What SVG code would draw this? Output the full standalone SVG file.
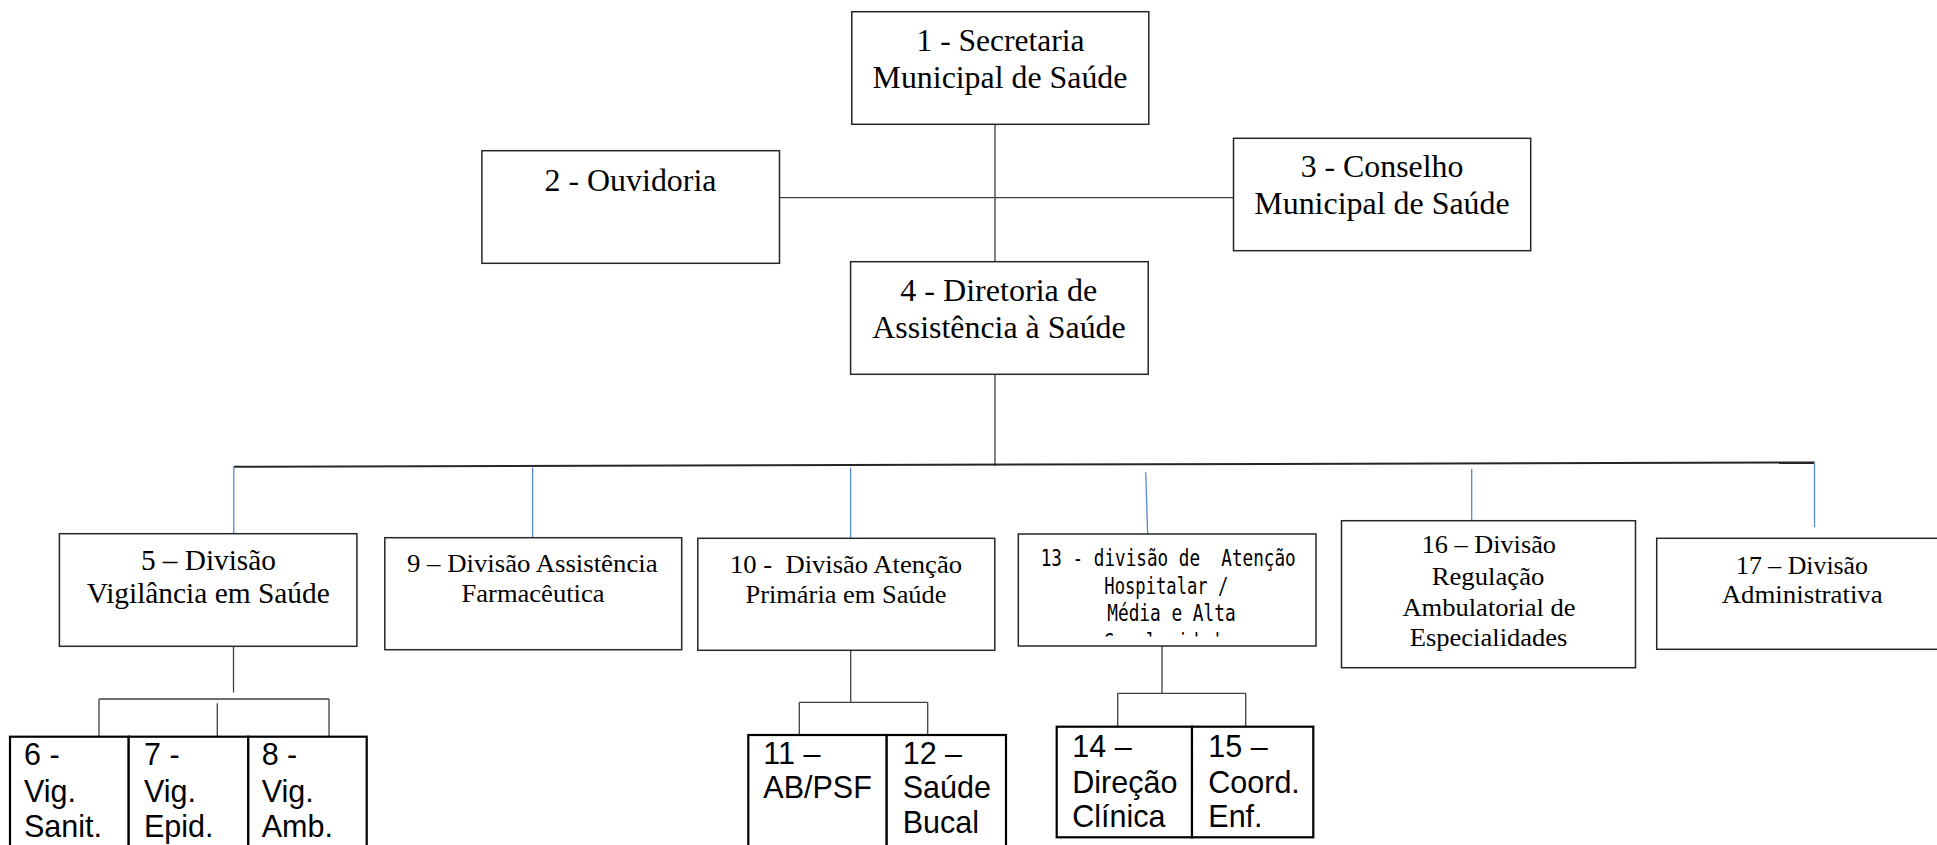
<svg xmlns="http://www.w3.org/2000/svg" width="1937" height="845" viewBox="0 0 1937 845">
<style>
.box{fill:#fff;stroke:#262626;stroke-width:1.5}
.bbox{fill:#fff;stroke:#000;stroke-width:2.2}
.t{font-family:"Liberation Serif","Times New Roman",serif;fill:#000;text-anchor:middle}
.t29{font-size:31px}
.t27{font-size:28.5px}
.t24{font-size:25.5px}
.a{font-family:"Liberation Sans",Arial,sans-serif;font-size:30.5px;fill:#000}
.m{font-family:"DejaVu Sans Mono","Liberation Mono",monospace;font-size:23.5px;fill:#000;white-space:pre}
.ln{stroke:#404040;stroke-width:1.3;fill:none}
.bus{stroke:#262626;stroke-width:2;fill:none}
.bl{stroke:#5a87d6;stroke-width:1.3;fill:none}
</style>
<defs>
<clipPath id="clip13"><rect x="1019" y="540" width="296" height="96.5"/></clipPath>
</defs>
<rect width="1937" height="845" fill="#fff"/>

<g id="connectors">
<line class="ln" x1="995" y1="124.3" x2="995" y2="261.7"/>
<line class="ln" x1="779.5" y1="197.7" x2="1233.5" y2="197.7"/>
<line class="ln" x1="995" y1="374.3" x2="995" y2="466"/>
<line class="bus" x1="233.8" y1="466.7" x2="1814.5" y2="462.4"/>
<line class="bl" x1="233.8" y1="466.7" x2="233.8" y2="533.7"/>
<line class="bl" x1="532.6" y1="467.5" x2="532.6" y2="537.7"/>
<line class="bl" x1="850.6" y1="467.5" x2="850.6" y2="538.3"/>
<line class="bl" x1="1145.7" y1="472.3" x2="1147.7" y2="535.7"/>
<line class="bl" x1="1471.7" y1="469" x2="1471.7" y2="533.3"/>
<line class="bl" x1="1814.5" y1="462.4" x2="1814.5" y2="527.3"/>
<line class="ln" x1="233.5" y1="646.3" x2="233.5" y2="692.5"/>
<line class="ln" x1="99" y1="699" x2="329" y2="699"/>
<line class="ln" x1="99" y1="699" x2="99" y2="736.7"/>
<line class="ln" x1="217.3" y1="703.3" x2="217.3" y2="736.7"/>
<line class="ln" x1="329" y1="699" x2="329" y2="736.7"/>
<line class="ln" x1="850.7" y1="650.3" x2="850.7" y2="702.3"/>
<line class="ln" x1="799.3" y1="702.3" x2="927.7" y2="702.3"/>
<line class="ln" x1="799.3" y1="702.3" x2="799.3" y2="735"/>
<line class="ln" x1="927.7" y1="702.3" x2="927.7" y2="735"/>
<line class="ln" x1="1162" y1="646" x2="1162" y2="693.3"/>
<line class="ln" x1="1117.7" y1="693.3" x2="1245.7" y2="693.3"/>
<line class="ln" x1="1117.7" y1="693.3" x2="1117.7" y2="726.7"/>
<line class="ln" x1="1245.7" y1="693.3" x2="1245.7" y2="726.7"/>
</g>

<g id="n1">
<rect class="box" x="851.8" y="11.7" width="297" height="112.6"/>
<text class="t t29" x="1000.5" y="50.7" textLength="167.8" lengthAdjust="spacingAndGlyphs">1 - Secretaria</text>
<text class="t t29" x="1000" y="88.3" textLength="254.8" lengthAdjust="spacingAndGlyphs">Municipal de Saúde</text>
</g>
<g id="n2">
<rect class="box" x="481.9" y="150.7" width="297.6" height="112.6"/>
<text class="t t29" x="630.5" y="190.7" textLength="172" lengthAdjust="spacingAndGlyphs">2 - Ouvidoria</text>
</g>
<g id="n3">
<rect class="box" x="1233.5" y="138.3" width="297.2" height="112.4"/>
<text class="t t29" x="1382" y="177.3" textLength="162.6" lengthAdjust="spacingAndGlyphs">3 - Conselho</text>
<text class="t t29" x="1382" y="213.5" textLength="255.4" lengthAdjust="spacingAndGlyphs">Municipal de Saúde</text>
</g>
<g id="n4">
<rect class="box" x="850.6" y="261.7" width="297.6" height="112.6"/>
<text class="t t29" x="998.7" y="300.7" textLength="197" lengthAdjust="spacingAndGlyphs">4 - Diretoria de</text>
<text class="t t29" x="999" y="338.3" textLength="253.5" lengthAdjust="spacingAndGlyphs">Assistência à Saúde</text>
</g>
<g id="n5">
<rect class="box" x="59.4" y="533.7" width="297.5" height="112.6"/>
<text class="t t27" x="208.4" y="570" textLength="135" lengthAdjust="spacingAndGlyphs">5 – Divisão</text>
<text class="t t27" x="208.2" y="603.3" textLength="243" lengthAdjust="spacingAndGlyphs">Vigilância em Saúde</text>
</g>
<g id="n9">
<rect class="box" x="384.8" y="537.7" width="296.9" height="112"/>
<text class="t t24" x="532.3" y="571.7" textLength="250.6" lengthAdjust="spacingAndGlyphs">9 – Divisão Assistência</text>
<text class="t t24" x="533" y="602.3" textLength="142.9" lengthAdjust="spacingAndGlyphs">Farmacêutica</text>
</g>
<g id="n10">
<rect class="box" x="697.8" y="538.3" width="297" height="112"/>
<text class="t t24" x="846" y="572.7" textLength="232" lengthAdjust="spacingAndGlyphs" style="white-space:pre">10 -  Divisão Atenção</text>
<text class="t t24" x="846" y="603.3" textLength="201" lengthAdjust="spacingAndGlyphs">Primária em Saúde</text>
</g>
<g id="n13">
<rect class="box" x="1018.3" y="534" width="297.7" height="112"/>
<text class="m" x="1040.7" y="565.7" textLength="255" lengthAdjust="spacingAndGlyphs">13 - divisão de  Atenção</text>
<text class="m" x="1104.3" y="594" textLength="124" lengthAdjust="spacingAndGlyphs">Hospitalar /</text>
<text class="m" x="1107.3" y="620.7" textLength="128.3" lengthAdjust="spacingAndGlyphs">Média e Alta</text>
<text class="m" x="1103.5" y="650" textLength="127" lengthAdjust="spacingAndGlyphs" clip-path="url(#clip13)">Complexidade</text>
</g>
<g id="n16">
<rect class="box" x="1341.5" y="520.7" width="294" height="147"/>
<text class="t t24" x="1488.8" y="553.3" textLength="134.3" lengthAdjust="spacingAndGlyphs">16 – Divisão</text>
<text class="t t24" x="1488" y="585" textLength="112.7" lengthAdjust="spacingAndGlyphs">Regulação</text>
<text class="t t24" x="1489" y="616" textLength="173.2" lengthAdjust="spacingAndGlyphs">Ambulatorial de</text>
<text class="t t24" x="1488.6" y="646" textLength="157.7" lengthAdjust="spacingAndGlyphs">Especialidades</text>
</g>
<g id="n17">
<rect class="box" x="1656.7" y="538.3" width="295" height="111"/>
<text class="t t24" x="1802" y="574" textLength="132" lengthAdjust="spacingAndGlyphs">17 – Divisão</text>
<text class="t t24" x="1802.2" y="603.3" textLength="161" lengthAdjust="spacingAndGlyphs">Administrativa</text>
</g>

<g id="n6">
<rect class="bbox" x="10" y="736.7" width="118.7" height="120"/>
<text class="a" x="24" y="765">6 -</text>
<text class="a" x="24" y="801.7">Vig.</text>
<text class="a" x="24" y="836.7">Sanit.</text>
</g>
<g id="n7">
<rect class="bbox" x="128.7" y="736.7" width="119.6" height="120"/>
<text class="a" x="144" y="765">7 -</text>
<text class="a" x="144" y="801.7">Vig.</text>
<text class="a" x="144" y="836.7">Epid.</text>
</g>
<g id="n8">
<rect class="bbox" x="248.3" y="736.7" width="118.4" height="120"/>
<text class="a" x="261.7" y="765">8 -</text>
<text class="a" x="261.7" y="801.7">Vig.</text>
<text class="a" x="261.7" y="836.7">Amb.</text>
</g>
<g id="n11">
<rect class="bbox" x="748.3" y="735" width="138.4" height="120"/>
<text class="a" x="763.3" y="764">11 –</text>
<text class="a" x="763.3" y="798.3">AB/PSF</text>
</g>
<g id="n12">
<rect class="bbox" x="886.7" y="735" width="119.3" height="120"/>
<text class="a" x="902.7" y="764">12 –</text>
<text class="a" x="902.7" y="798.3">Saúde</text>
<text class="a" x="902.7" y="833.3">Bucal</text>
</g>
<g id="n14">
<rect class="bbox" x="1056.7" y="726.7" width="135.3" height="110.6"/>
<text class="a" x="1072.3" y="757.3">14 –</text>
<text class="a" x="1072.3" y="793.3">Direção</text>
<text class="a" x="1072.3" y="826.7">Clínica</text>
</g>
<g id="n15">
<rect class="bbox" x="1192" y="726.7" width="121.3" height="110.6"/>
<text class="a" x="1208.3" y="757.3">15 –</text>
<text class="a" x="1208.3" y="793.3">Coord.</text>
<text class="a" x="1208.3" y="826.7">Enf.</text>
</g>
</svg>
